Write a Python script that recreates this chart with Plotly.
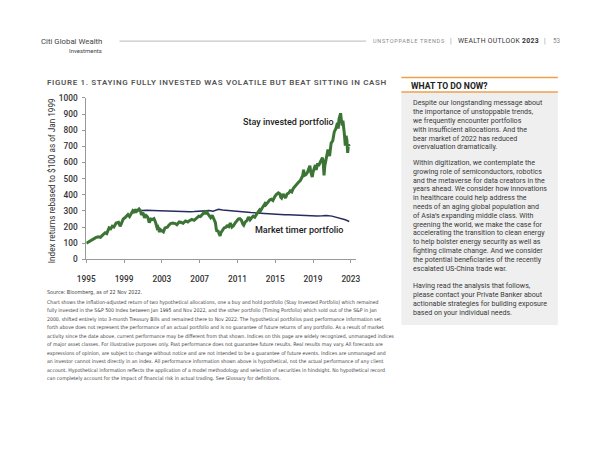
import plotly.graph_objects as go

# ---------------- data ----------------
stay_dates = ["1995-01","1995-04","1995-07","1995-10","1996-01","1996-04","1996-07","1996-10",
"1997-01","1997-03","1997-06","1997-08","1997-10","1997-12","1998-03","1998-06","1998-08","1998-09",
"1998-12","1999-03","1999-06","1999-08","1999-10","1999-12","2000-02","2000-03","2000-05","2000-08",
"2000-10","2000-11","2001-01","2001-03","2001-05","2001-07","2001-09","2001-11","2002-01","2002-03",
"2002-05","2002-07","2002-08","2002-10","2002-11","2003-01","2003-03","2003-05","2003-08","2003-10",
"2003-12","2004-03","2004-06","2004-08","2004-11","2005-01","2005-04","2005-07","2005-10","2005-12",
"2006-03","2006-06","2006-09","2006-12","2007-02","2007-05","2007-07","2007-08","2007-10","2007-11",
"2008-01","2008-03","2008-05","2008-07","2008-09","2008-10","2008-11","2008-12","2009-02","2009-03",
"2009-04","2009-06","2009-08","2009-10","2009-12","2010-02","2010-04","2010-06","2010-08","2010-10",
"2010-12","2011-02","2011-04","2011-06","2011-08","2011-09","2011-11","2012-01","2012-03","2012-05",
"2012-07","2012-09","2012-11","2013-01","2013-03","2013-05","2013-06","2013-08","2013-10","2013-12",
"2014-01","2014-03","2014-06","2014-08","2014-10","2014-12","2015-02","2015-05","2015-07","2015-08",
"2015-09","2015-11","2016-01","2016-02","2016-04","2016-06","2016-08","2016-10","2016-12","2017-03",
"2017-06","2017-09","2017-12","2018-01","2018-02","2018-04","2018-06","2018-09","2018-10","2018-12",
"2019-01","2019-04","2019-05","2019-07","2019-08","2019-10","2019-12","2020-01","2020-02","2020-03",
"2020-04","2020-06","2020-08","2020-09","2020-10","2020-12","2021-02","2021-04","2021-06","2021-08",
"2021-09","2021-10","2021-12","2022-01","2022-02","2022-03","2022-04","2022-05","2022-06","2022-07",
"2022-08","2022-09","2022-10","2022-11"]
stay_values = [100,110,120,125,135,140,137,152,
165,160,195,190,205,200,225,230,205,215,
250,262,278,265,280,300,288,310,298,312,
300,275,290,258,272,262,228,250,247,252,
230,195,200,170,185,178,170,195,200,212,
222,225,222,215,232,230,224,238,232,240,
248,242,255,268,265,285,292,280,300,285,
270,258,272,250,228,190,172,180,148,145,
165,180,195,198,208,203,225,200,208,225,
240,250,252,243,218,212,232,240,262,245,
258,268,262,280,292,305,298,315,332,345,
338,352,368,372,365,385,400,412,405,385,
380,405,385,380,405,410,425,418,440,460,
475,490,520,555,520,525,540,580,545,510,
540,585,555,595,580,600,625,630,595,520,
580,625,680,655,640,720,735,790,810,845,
810,870,905,860,830,860,775,770,705,765,
740,660,710,700]

timer_dates = ["2000-01","2000-06","2001-01","2001-06","2002-01","2002-06","2003-01","2003-06",
"2004-01","2004-06","2005-01","2005-06","2006-01","2006-06","2007-01","2007-06","2008-01","2008-06",
"2008-09","2009-01","2009-06","2010-01","2010-06","2011-01","2011-06","2012-01","2012-06","2013-01",
"2013-06","2014-01","2014-06","2015-01","2015-06","2016-01","2016-06","2017-01","2017-06","2018-01",
"2018-06","2019-01","2019-06","2020-01","2020-06","2021-01","2021-06","2022-01","2022-06","2022-11"]
timer_values = [300,302,303,304,303,302,301,300,
298,296,295,294,295,296,298,300,302,298,
305,310,306,302,300,298,294,292,290,288,
286,284,282,280,278,277,276,274,272,270,
268,268,268,270,272,268,262,255,245,235]

year_ticks = ["1995-01-01","1999-01-01","2003-01-01","2007-01-01","2011-01-01","2015-01-01","2019-01-01","2023-01-01"]
year_labels = ["1995","1999","2003","2007","2011","2015","2019","2023"]
y_ticks = [0,100,200,300,400,500,600,700,800,900,1000]

W, H = 600, 463
def px(x): return x / W
def py(y): return 1 - y / H

GREEN = "#3b7434"
NAVY = "#272c5e"
FONT = "Roboto"
NARROW = "Liberation Sans Narrow, DejaVu Sans Condensed, Roboto Condensed, sans-serif"

fig = go.Figure()
fig.add_trace(go.Scatter(x=timer_dates, y=timer_values, mode="lines",
                         line=dict(color=NAVY, width=1.5), name="Market timer portfolio"))
fig.add_trace(go.Scatter(x=stay_dates, y=stay_values, mode="lines",
                         line=dict(color=GREEN, width=3), name="Stay invested portfolio"))

fig.update_layout(
    width=W, height=H, autosize=False,
    margin=dict(l=0, r=0, t=0, b=0),
    paper_bgcolor="white", plot_bgcolor="white",
    showlegend=False,
    font=dict(family=FONT, color="#333"),
    xaxis=dict(domain=[px(79), px(355)], range=["1995-01-01", "2023-08-01"],
               tickvals=year_ticks, ticktext=year_labels,
               showgrid=False, zeroline=False, showline=True, linecolor="#999", linewidth=1,
               ticks="outside", ticklen=3, tickcolor="#999", ticklabelstandoff=9,
               tickfont=dict(size=8.3, family=FONT, color="#333", weight=500)),
    yaxis=dict(domain=[py(260), py(95)], range=[0, 1000], tickvals=y_ticks,
               showgrid=False, zeroline=False, showline=True, linecolor="#999", linewidth=1,
               ticks="outside", ticklen=3, tickcolor="#999", ticklabelstandoff=3,
               tickfont=dict(size=8.3, family=FONT, color="#333", weight=500)),
)

ann = []
def text(x, y, s, size, color="#333", anchor="left", weight=400, family=FONT, angle=0, spacing=None):
    if spacing is not None:
        s = '<span style="letter-spacing:%spx">%s</span>' % (spacing, s)
    ann.append(dict(x=px(x), y=py(y), xref="paper", yref="paper", text=s, showarrow=False,
                    xanchor=anchor, yanchor="middle", textangle=angle,
                    font=dict(size=size, color=color, family=family, weight=weight)))

# header
text(97, 37, "Citi Global Wealth", 7.8, "#444", "right")
text(97, 47, "Investments", 6, "#444", "right")
text(370, 37, "UNSTOPPABLE TRENDS", 5.5, "#8a8a8a", "left", spacing=0.7)
text(452, 37, "|", 6.5, "#8a8a8a", "center")
text(457, 37, "WEALTH OUTLOOK <b>2023</b>", 6.8, "#333", "left", spacing=0.3)
text(548, 37, "|", 6.5, "#8a8a8a", "center")
text(554, 37, "53", 6.3, "#8a8a8a", "left")

# figure title
text(37, 79, "FIGURE 1. STAYING FULLY INVESTED WAS VOLATILE BUT BEAT SITTING IN CASH", 8, "#555", "left", 600, spacing=0.65)

# axis title
text(44, 180, "Index returns rebased to $100 as of Jan 1999", 8.2, "#333", "center", 400, FONT, -90)

# series labels
text(237, 120, "Stay invested portfolio", 9, "#222", "left", 500)
text(249, 230, "Market timer portfolio", 9, "#222", "left", 500)

# right box
text(409, 83, "WHAT TO DO NOW?", 8.6, "#222", "left", 700)
box_lines = [
    (100, "Despite our longstanding message about"),
    (109, "the importance of unstoppable trends,"),
    (118, "we frequently encounter portfolios"),
    (127, "with insufficient allocations. And the"),
    (136, "bear market of 2022 has reduced"),
    (145, "overvaluation dramatically."),
    (161, "Within digitization, we contemplate the"),
    (170, "growing role of semiconductors, robotics"),
    (179, "and the metaverse for data creators in the"),
    (188, "years ahead. We consider how innovations"),
    (197, "in healthcare could help address the"),
    (206, "needs of an aging global population and"),
    (215, "of Asia\u2019s expanding middle class. With"),
    (224, "greening the world, we make the case for"),
    (233, "accelerating the transition to clean energy"),
    (242, "to help bolster energy security as well as"),
    (251, "fighting climate change. And we consider"),
    (260, "the potential beneficiaries of the recently"),
    (269, "escalated US-China trade war."),
    (287, "Having read the analysis that follows,"),
    (296, "please contact your Private Banker about"),
    (305, "actionable strategies for building exposure"),
    (314, "based on your individual needs."),
]
for y, s in box_lines:
    text(411, y, s, 7.1, "#3a3a3a", "left")

# footnotes
text(37, 294, "Source: Bloomberg, as of 22 Nov 2022.", 5.4, "#444", "left", 400, NARROW)
foot = [
 "Chart shows the inflation-adjusted return of two hypothetical allocations, one a buy and hold portfolio (Stay Invested Portfolio) which remained",
 "fully invested in the S&P 500 Index between Jan 1995 and Nov 2022, and the other portfolio (Timing Portfolio) which sold out of the S&P in Jan",
 "2000, shifted entirely into 3-month Treasury Bills and remained there to Nov 2022. The hypothetical portfolios past performance information set",
 "forth above does not represent the performance of an actual portfolio and is no guarantee of future returns of any portfolio. As a result of market",
 "activity since the date above, current performance may be different from that shown. Indices on this page are widely recognized, unmanaged indices",
 "of major asset classes. For illustrative purposes only. Past performance does not guarantee future results. Real results may vary. All forecasts are",
 "expressions of opinion, are subject to change without notice and are not intended to be a guarantee of future events. Indices are unmanaged and",
 "an investor cannot invest directly in an index. All performance information shown above is hypothetical, not the actual performance of any client",
 "account. Hypothetical information reflects the application of a model methodology and selection of securities in hindsight. No hypothetical record",
 "can completely account for the impact of financial risk in actual trading. See Glossary for definitions.",
]
for i, s in enumerate(foot):
    text(37, 304 + i * 8.67, s.replace("&", "&amp;"), 5.15, "#444", "left", 400, NARROW)

shapes = [
    dict(type="line", xref="paper", yref="paper", x0=px(113), x1=px(365), y0=py(37), y1=py(37),
         line=dict(color="#c8c8c8", width=1.2)),
    dict(type="rect", xref="paper", yref="paper", x0=px(401), x1=px(561), y0=py(327), y1=py(89),
         fillcolor="#efefef", line=dict(width=0), layer="below"),
    dict(type="line", xref="paper", yref="paper", x0=px(401), x1=px(561), y0=py(74), y1=py(74),
         line=dict(color="#eca24a", width=1.5)),
    dict(type="line", xref="paper", yref="paper", x0=px(401), x1=px(561), y0=py(89), y1=py(89),
         line=dict(color="#eca24a", width=1.5)),
]
fig.update_layout(annotations=ann, shapes=shapes)

fig.write_html("out.html", config={"displayModeBar": False},
               post_script="document.body.style.margin='0';")
